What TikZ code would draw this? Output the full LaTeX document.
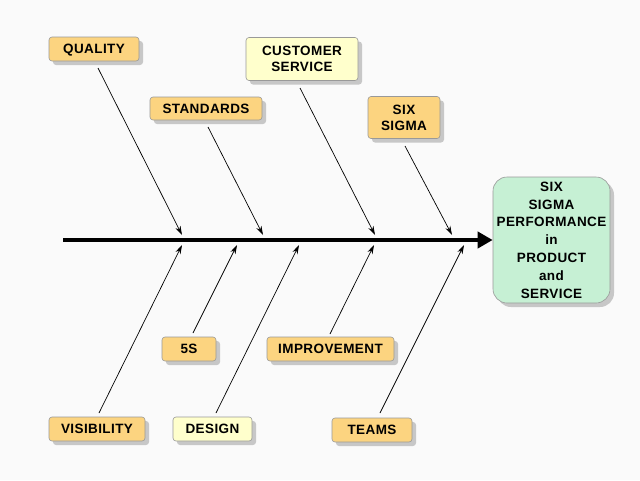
\documentclass[tikz,border=0pt]{standalone}
\usepackage{fontspec}
\setmainfont{Liberation Sans}[LetterSpace=3]
\usetikzlibrary{shadows,arrows.meta}
\definecolor{boxorange}{RGB}{252,212,128}
\definecolor{boxyellow}{RGB}{255,255,204}
\definecolor{boxgreen}{RGB}{198,240,212}
\definecolor{bg}{RGB}{250,250,250}
\tikzset{
  cause/.style={draw=black!40, line width=0.6pt, rounded corners=3pt, align=center,
    font=\bfseries\fontsize{13.5}{16}\selectfont, inner sep=0pt,
    drop shadow={shadow xshift=4pt, shadow yshift=-4pt, fill=black!22, opacity=1}},
  oneline/.style={text height=9.7pt, text depth=0pt},
  orangebox/.style={cause, fill=boxorange},
  yellowbox/.style={cause, fill=boxyellow},
  effect/.style={cause, fill=boxgreen, rounded corners=14pt,
    font=\bfseries\fontsize{13.5}{17.8}\selectfont},
  bone/.style={line width=0.7pt, -{Stealth[length=9pt,width=5.5pt]}},
  spine/.style={line width=4.5pt, -{Triangle[length=15pt,width=16pt]}}
}
\begin{document}
\begin{tikzpicture}[x=1pt,y=-1pt]
\fill[bg] (0,0) rectangle (640,480);
\useasboundingbox (0,0) rectangle (640,480);
% boxes
\node[orangebox, oneline, minimum width=90pt, minimum height=24pt] (qual) at (94,49) {QUALITY};
\node[orangebox, oneline, minimum width=112pt, minimum height=23pt] (stand) at (206,108.5) {STANDARDS};
\node[yellowbox, minimum width=112pt, minimum height=43pt] (cust) at (302,59) {CUSTOMER\\SERVICE};
\node[orangebox, minimum width=72pt, minimum height=42pt] (six) at (404,117.5) {SIX\\SIGMA};
\node[effect, minimum width=117pt, minimum height=126pt] (res) at (551.5,240) {SIX\\SIGMA\\PERFORMANCE\\in\\PRODUCT\\and\\SERVICE};
\node[orangebox, oneline, minimum width=54pt, minimum height=24pt] (fives) at (189,349) {5S};
\node[orangebox, oneline, minimum width=127pt, minimum height=24pt] (impr) at (330.5,349) {IMPROVEMENT};
\node[orangebox, oneline, minimum width=96pt, minimum height=24pt] (vis) at (97,429) {VISIBILITY};
\node[yellowbox, oneline, minimum width=79pt, minimum height=24pt] (des) at (212.5,429) {DESIGN};
\node[orangebox, oneline, minimum width=80pt, minimum height=24pt] (teams) at (372,430) {TEAMS};
% spine
\coordinate (spinestart) at (63,240);
\draw[spine] (spinestart) -- (res.west);
% bone coordinates
\coordinate (qs) at (98,68);   \coordinate (qe) at (182,235);
\coordinate (ss) at (208,127); \coordinate (se) at (263,235);
\coordinate (cs) at (300,88);  \coordinate (ce) at (375,235);
\coordinate (xs) at (405,146); \coordinate (xe) at (452,235);
\coordinate (vs) at (99,413);  \coordinate (ve) at (182,245);
\coordinate (fs) at (193,333); \coordinate (fe) at (237,245);
\coordinate (ds) at (216,413); \coordinate (de) at (299,245);
\coordinate (is) at (330,334); \coordinate (ie) at (374,245);
\coordinate (ts) at (380,413); \coordinate (te) at (464,245);
\draw[bone] (qs) -- (qe);
\draw[bone] (ss) -- (se);
\draw[bone] (cs) -- (ce);
\draw[bone] (xs) -- (xe);
\draw[bone] (vs) -- (ve);
\draw[bone] (fs) -- (fe);
\draw[bone] (ds) -- (de);
\draw[bone] (is) -- (ie);
\draw[bone] (ts) -- (te);
\end{tikzpicture}
\end{document}
